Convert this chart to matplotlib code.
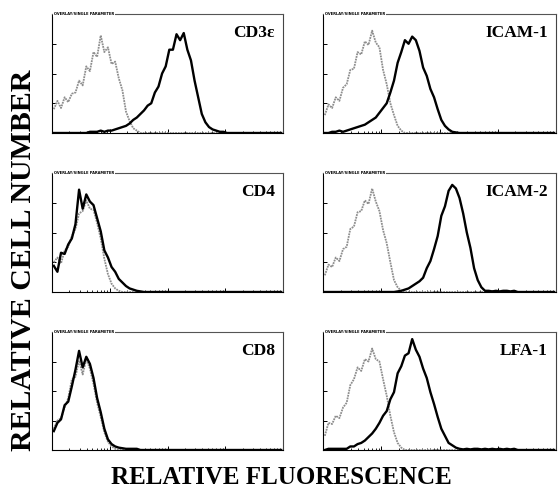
import numpy as np
import matplotlib
matplotlib.use("Agg")
import matplotlib.pyplot as plt

plt.rcParams['font.family'] = ['Liberation Serif', 'DejaVu Serif']

# 64 log-spaced channels over 4 decades, counts scaled to peak-ish 1.0
n_bins = 64

labels = ["CD3ε", "ICAM-1", "CD4", "ICAM-2", "CD8", "LFA-1"]

# grey = isotype control, black = specific antibody
grey_cd3 = [0.20, 0.27, 0.21, 0.30, 0.26, 0.33, 0.34, 0.44, 0.40, 0.56, 0.52, 0.68,
            0.64, 0.82, 0.68, 0.72, 0.58, 0.60, 0.46, 0.36, 0.18, 0.10, 0.04, 0.02]
black_cd3 = [0, 0, 0, 0, 0, 0, 0, 0, 0, 0, 0.01, 0.01, 0.01, 0.02, 0.01, 0.02, 0.02,
             0.03, 0.04, 0.05, 0.06, 0.08, 0.11, 0.13, 0.16, 0.19, 0.23, 0.25, 0.34,
             0.39, 0.50, 0.56, 0.70, 0.70, 0.83, 0.78, 0.84, 0.70, 0.61, 0.44, 0.30,
             0.16, 0.09, 0.05, 0.03, 0.02, 0.01, 0.01]

grey_icam1 = [0.15, 0.24, 0.21, 0.30, 0.27, 0.38, 0.41, 0.53, 0.54, 0.68, 0.66, 0.77,
              0.74, 0.86, 0.76, 0.72, 0.53, 0.41, 0.25, 0.15, 0.06, 0.02]
black_icam1 = [0, 0, 0.01, 0.01, 0.02, 0.01, 0.02, 0.03, 0.04, 0.05, 0.06, 0.07, 0.09,
               0.11, 0.13, 0.17, 0.21, 0.25, 0.34, 0.44, 0.59, 0.68, 0.78, 0.75, 0.81,
               0.78, 0.69, 0.55, 0.48, 0.37, 0.30, 0.20, 0.11, 0.06, 0.03, 0.01, 0.005]

grey_cd4 = [0.25, 0.29, 0.24, 0.35, 0.38, 0.47, 0.53, 0.66, 0.68, 0.77, 0.70, 0.69,
            0.58, 0.45, 0.28, 0.15, 0.07, 0.03, 0.01]
black_cd4 = [0.22, 0.17, 0.33, 0.32, 0.40, 0.45, 0.57, 0.86, 0.70, 0.82, 0.76, 0.73,
             0.62, 0.51, 0.35, 0.29, 0.21, 0.17, 0.11, 0.08, 0.05, 0.03, 0.02, 0.01,
             0.005]

grey_icam2 = [0.14, 0.23, 0.21, 0.29, 0.26, 0.36, 0.38, 0.53, 0.55, 0.67, 0.68, 0.77,
              0.74, 0.87, 0.76, 0.68, 0.52, 0.41, 0.25, 0.10, 0.04, 0.01]
black_icam2 = [0] * 20 + [0.005, 0.01, 0.02, 0.03, 0.05, 0.07, 0.09, 0.12, 0.20, 0.26,
                          0.36, 0.47, 0.64, 0.72, 0.85, 0.90, 0.87, 0.79, 0.66, 0.50,
                          0.37, 0.20, 0.10, 0.04, 0.01, 0.01, 0.005, 0.01, 0.005,
                          0.01, 0.01, 0.005, 0.01]

grey_cd8 = [0.18, 0.25, 0.27, 0.36, 0.44, 0.60, 0.62, 0.76, 0.64, 0.77, 0.69, 0.56,
            0.40, 0.28, 0.15, 0.07, 0.03, 0.01]
black_cd8 = [0.16, 0.23, 0.26, 0.38, 0.41, 0.54, 0.68, 0.84, 0.70, 0.79, 0.73, 0.61,
             0.44, 0.32, 0.18, 0.09, 0.05, 0.03, 0.02, 0.015, 0.01, 0.01, 0.01, 0.01]

grey_lfa1 = [0.12, 0.23, 0.22, 0.29, 0.27, 0.36, 0.40, 0.55, 0.60, 0.70, 0.67, 0.77,
             0.75, 0.86, 0.77, 0.75, 0.60, 0.46, 0.29, 0.15, 0.06, 0.02]
black_lfa1 = [0, 0.01, 0.01, 0.01, 0.01, 0.01, 0.01, 0.03, 0.03, 0.05, 0.06, 0.08,
              0.11, 0.14, 0.18, 0.23, 0.29, 0.33, 0.43, 0.49, 0.65, 0.71, 0.80, 0.82,
              0.94, 0.85, 0.79, 0.69, 0.61, 0.49, 0.39, 0.28, 0.18, 0.12, 0.06, 0.04,
              0.02, 0.01, 0.005, 0.01, 0.005, 0.01, 0.01, 0.005, 0.01, 0.005, 0.01,
              0.005, 0.01, 0.005, 0.01, 0.005, 0.01]

greys = [grey_cd3, grey_icam1, grey_cd4, grey_icam2, grey_cd8, grey_lfa1]
blacks = [black_cd3, black_icam1, black_cd4, black_icam2, black_cd8, black_lfa1]


def pad(v):
    return np.pad(np.array(v, dtype=float), (0, n_bins - len(v)))


edges = np.logspace(0, 4, n_bins + 1)
centers = np.sqrt(edges[:-1] * edges[1:])

W, H = 558, 491
fig = plt.figure(figsize=(W / 100, H / 100), dpi=100)

col_x = [(52, 231), (323, 233)]
row_y = [(14, 133), (173, 292), (332, 450)]

for k in range(6):
    r, c = divmod(k, 2)
    x0, w = col_x[c]
    top, bot = row_y[r]
    ax = fig.add_axes([x0 / W, 1 - bot / H, w / W, (bot - top) / H])

    ax.plot(centers, pad(greys[k]), color="#8e8e8e", lw=1.3, ls=(0, (1, 0.5)))
    ax.plot(centers, pad(blacks[k]), color="black", lw=1.7)

    ax.set_xscale("log")
    ax.set_xlim(1, 1e4)
    ax.set_ylim(0, 1.0)
    ax.set_yticks([0.25, 0.5, 0.75])
    ax.set_xticks([10, 100, 1000])
    ax.tick_params(direction="in", length=3, width=0.7, labelleft=False,
                   labelbottom=False)
    ax.tick_params(which="minor", direction="in", length=1.8, width=0.6)
    for s in ax.spines.values():
        s.set_linewidth(0.8)
    ax.spines["top"].set_color("#555555")
    ax.spines["right"].set_color("#444444")

    ax.text(0.965, 0.91, labels[k], transform=ax.transAxes, ha="right", va="top",
            fontsize=12.5, fontweight="bold")
    ax.text(0.01, 1.0, "OVERLAY/SINGLE PARAMETER", transform=ax.transAxes,
            ha="left", va="center", fontsize=2.6, fontfamily="DejaVu Sans",
            fontweight="bold",
            bbox=dict(facecolor="white", edgecolor="none", pad=0.6))

fig.text(0.505, 0.0285, "RELATIVE FLUORESCENCE", ha="center", va="center",
         fontsize=18, fontweight="bold")
fig.text(0.043, 0.47, "RELATIVE CELL NUMBER", ha="center", va="center",
         rotation=90, fontsize=21.5, fontweight="bold")

fig.savefig("out.png", dpi=100)
